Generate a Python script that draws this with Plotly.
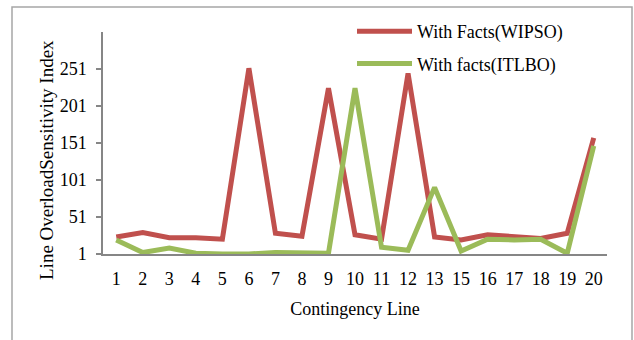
import plotly.graph_objects as go

# Contingency lines (line 14 is not listed)
lines = ["1", "2", "3", "4", "5", "6", "7", "8", "9", "10",
         "11", "12", "13", "15", "16", "17", "18", "19", "20"]

wipso = [24, 30, 23, 23, 21, 252, 29, 25, 225, 27,
         21, 245, 24, 20, 27, 25, 22, 29, 158]
itlbo = [20, 3, 9, 2, 1, 1, 3, 3, 2, 225,
         10, 6, 91, 5, 21, 20, 21, 2, 147]

y_ticks = [1, 51, 101, 151, 201, 251]

RED = "#C0504D"
GREEN = "#9BBB59"
AXIS = "#868686"
FONT = "Liberation Serif"

fig = go.Figure()
fig.add_trace(go.Scatter(x=lines, y=wipso, mode="lines", name="With Facts(WIPSO)",
                         line=dict(color=RED, width=5), legendgroup="a"))
fig.add_trace(go.Scatter(x=lines, y=itlbo, mode="lines", name="With facts(ITLBO)",
                         line=dict(color=GREEN, width=5), legendgroup="b"))

# plot area geometry in pixels
L, R, T, B = 103, 607, 32, 254
W, H = 634, 340
pw, ph = R - L, B - T

def px(x):
    return (x - L) / pw

def py(y):
    return (B - y) / ph

fig.update_layout(
    width=W, height=H,
    margin=dict(l=L, r=W - R, t=T, b=H - B, pad=0),
    paper_bgcolor="white", plot_bgcolor="white",
    font=dict(family=FONT, size=18, color="black"),
    showlegend=True,
    legend=dict(x=px(352), y=py(13), xanchor="left", yanchor="top",
                bgcolor="rgba(0,0,0,0)", font=dict(size=18),
                tracegroupgap=6, itemwidth=55),
    shapes=[dict(type="rect", xref="paper", yref="paper",
                 x0=px(12), x1=px(632), y0=py(350), y1=py(7),
                 line=dict(color="#A6A6A6", width=1.5), fillcolor="rgba(0,0,0,0)",
                 layer="below")],
    annotations=[dict(text="Line OverloadSensitivity Index", textangle=-90,
                      xref="paper", yref="paper", x=px(46), y=py(160),
                      xanchor="center", yanchor="middle", showarrow=False,
                      font=dict(size=19))],
)

fig.update_xaxes(
    type="category", showgrid=False, zeroline=False,
    showline=True, linecolor=AXIS, linewidth=1.5,
    ticks="", tickfont=dict(size=18), ticklabelstandoff=8,
    title=dict(text="Contingency Line", font=dict(size=18), standoff=14),
    range=[-0.5, len(lines) - 0.5],
)
fig.update_yaxes(
    range=[1, 301], tickmode="array", tickvals=y_ticks,
    ticktext=[str(v) for v in y_ticks],
    showgrid=False, zeroline=False,
    showline=True, linecolor=AXIS, linewidth=1.5,
    ticks="outside", ticklen=5, tickcolor=AXIS, tickwidth=1.5,
    tickfont=dict(size=18), ticklabelstandoff=6,
)

fig.write_html("out.html")
